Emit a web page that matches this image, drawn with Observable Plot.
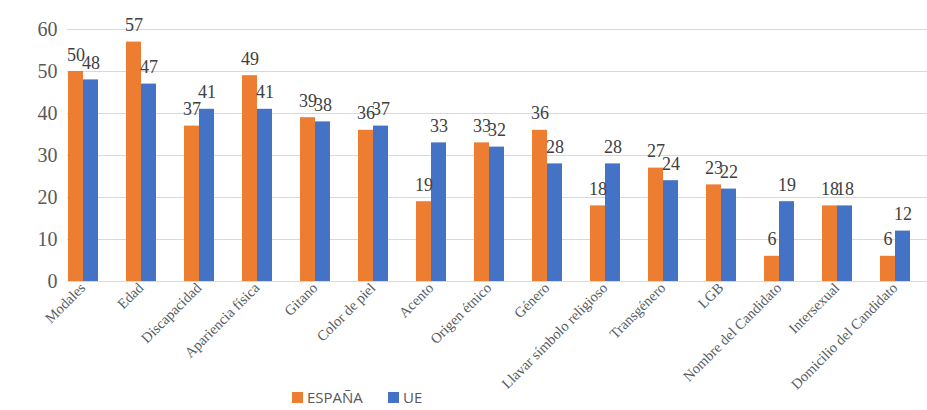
<!DOCTYPE html>
<html><head><meta charset="utf-8">
<script src="https://cdn.jsdelivr.net/npm/d3@7"></script>
<script src="https://cdn.jsdelivr.net/npm/@observablehq/plot@0.6"></script>
<style>
body{margin:0;background:#fff;}
#chart svg text{font-family:"Liberation Serif",serif !important;}
#legend{position:relative;height:28px;font-family:"Open Sans","Liberation Sans",sans-serif;font-size:15px;color:#595959;}
.item{position:absolute;top:5px;display:flex;align-items:center;}
.sw{width:11px;height:11px;margin-right:4px;display:inline-block;}
</style></head>
<body>
<div id="chart"></div>
<div id="legend"></div>
<script>
const categories = ["Modales","Edad","Discapacidad","Apariencia física","Gitano","Color de piel","Acento","Origen étnico","Género","Llavar símbolo religioso","Transgénero","LGB","Nombre del Candidato","Intersexual","Domicilio del Candidato"];
const espana = [50,57,37,49,39,36,19,33,36,18,27,23,6,18,6];
const ue = [48,47,41,41,38,37,33,32,28,28,24,22,19,18,12];
const series = ["ESPAÑA","UE"];
const colors = ["#ED7D31","#4472C4"];
const yTicks = [0,10,20,30,40,50,60];

const data = [];
categories.forEach((c,i)=>{
  data.push({cat:c, serie:"ESPAÑA", value:espana[i]});
  data.push({cat:c, serie:"UE", value:ue[i]});
});

const W = 927, ML = 52, MR = 2;
const serif = "Liberation Serif";
const chart = Plot.plot({
  width: W,
  height: 382,
  marginLeft: ML,
  marginRight: MR,
  marginTop: 29,
  marginBottom: 101,
  style: {background: "#fff", overflow: "visible"},
  fx: {domain: categories, paddingInner: 0.467, paddingOuter: 0.233, label: null},
  x: {domain: series, padding: 0, axis: null},
  y: {domain: [0,60], ticks: yTicks, label: null},
  color: {domain: series, range: colors},
  marks: [
    Plot.axisY({ticks: yTicks, tickSize: -(W - ML - MR), text: null, stroke: "#d9d9d9", strokeWidth: 1.2, label: null}),
    Plot.barY(data, {fx: "cat", x: "serie", y: "value", fill: "serie"}),
    Plot.text(data, {fx: "cat", x: "serie", y: "value", text: d=>String(d.value), lineAnchor: "bottom", dy: -11, fontSize: 18, fill: "#404040", fontFamily: serif}),
    Plot.axisY({ticks: yTicks, tickSize: 0, tickPadding: 10, fontSize: 20, fill: "#595959", fontFamily: serif, label: null}),
    Plot.axisFx({anchor: "bottom", tickRotate: -45, tickSize: 0, tickPadding: 4, fontSize: 14.5, fill: "#595959", fontFamily: serif, label: null})
  ]
});
document.getElementById("chart").appendChild(chart);

const lg = document.getElementById("legend");
const pos = [292, 388];
series.forEach((s,i)=>{
  const it = document.createElement("div");
  it.className="item"; it.style.left = pos[i]+"px";
  it.innerHTML = `<span class="sw" style="background:${colors[i]}"></span><span>${s}</span>`;
  lg.appendChild(it);
});
</script>
</body></html>
